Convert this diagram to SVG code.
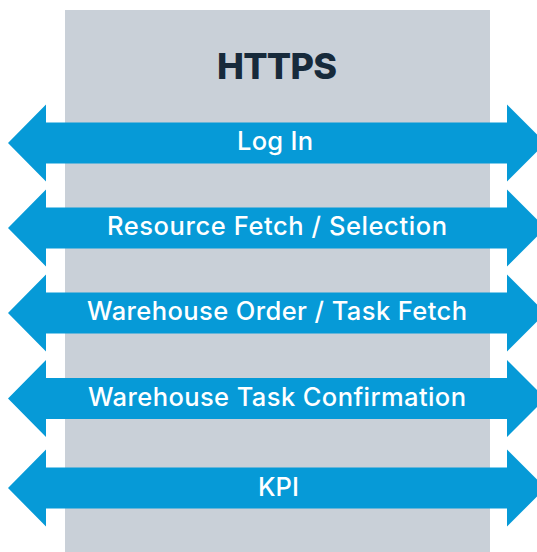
<svg xmlns="http://www.w3.org/2000/svg" width="537" height="552" viewBox="0 0 537 552">
<style>
.arrow{fill:#069ad7}
.lbl{font-family:Inter,Roboto,"Liberation Sans",sans-serif;font-weight:500;font-size:25.5px;fill:#ffffff;text-anchor:middle}
.title{font-family:Inter,Roboto,"Liberation Sans",sans-serif;font-weight:800;font-size:36px;fill:#172a3b;text-anchor:middle}
</style>
<defs>
<path id="dbl" class="arrow" d="M8,0 L46,-38.5 L46,-20.5 L507,-20.5 L507,-38.5 L545.5,0 L507,38.5 L507,20.5 L46,20.5 L46,38.5 Z"/>
</defs>
<g id="frame">
<rect x="65" y="10" width="425" height="542" fill="#c9d0d8"/>
<text class="title" x="277" y="79" textLength="120">HTTPS</text>
</g>
<g id="connectors">
<use href="#dbl" y="143"/>
<use href="#dbl" y="228"/>
<use href="#dbl" y="313"/>
<use href="#dbl" y="398.5"/>
<use href="#dbl" y="488"/>
</g>
<g id="n1"><text class="lbl" x="275" y="150" textLength="76">Log In</text></g>
<g id="n2"><text class="lbl" x="277" y="235" textLength="340">Resource Fetch / Selection</text></g>
<g id="n3"><text class="lbl" x="277" y="320" textLength="380">Warehouse Order / Task Fetch</text></g>
<g id="n4"><text class="lbl" x="277" y="405.5" textLength="378">Warehouse Task Confirmation</text></g>
<g id="n5"><text class="lbl" x="278.5" y="496" textLength="41">KPI</text></g>
</svg>
